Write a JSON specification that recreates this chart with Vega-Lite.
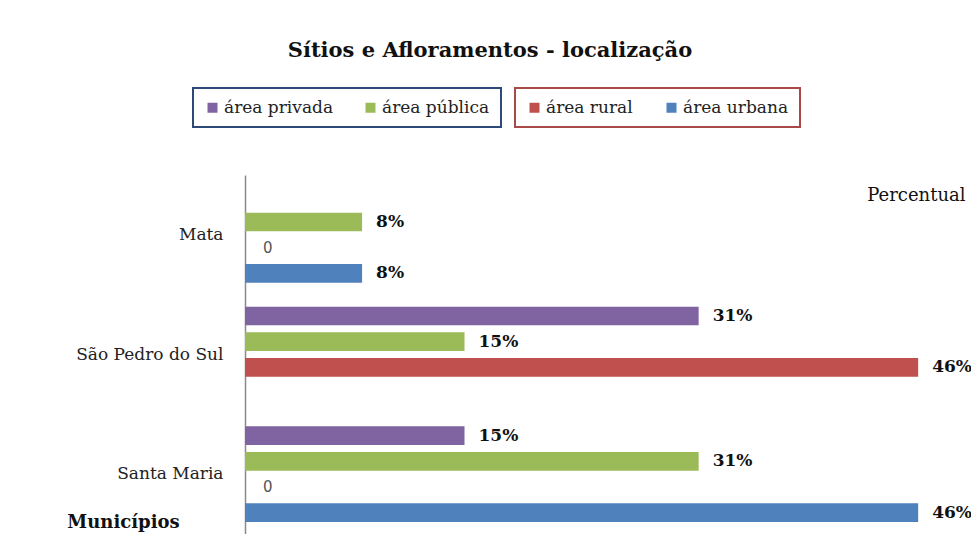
{
  "$schema": "https://vega.github.io/schema/vega-lite/v6.json",
  "autosize": "none",
  "padding": {"left": 245, "top": 175, "right": 6, "bottom": 0},
  "width": 720,
  "height": 359,
  "background": "white",
  "config": {"view": {"stroke": null}, "font": "DejaVu Serif", "legend": {"strokeWidth": 2}},
  "title": {
    "text": "Sítios e Afloramentos - localização",
    "font": "DejaVu Serif",
    "fontSize": 21,
    "fontWeight": "bold",
    "color": "#111",
    "anchor": "middle",
    "dx": -115,
    "offset": 26
  },
  "datasets": {
    "dados": [
      {"municipio": "Mata", "tipo": "área pública", "pct": 0.08},
      {"municipio": "Mata", "tipo": "área rural", "pct": 0},
      {"municipio": "Mata", "tipo": "área urbana", "pct": 0.08},
      {"municipio": "São Pedro do Sul", "tipo": "área privada", "pct": 0.31},
      {"municipio": "São Pedro do Sul", "tipo": "área pública", "pct": 0.15},
      {"municipio": "São Pedro do Sul", "tipo": "área rural", "pct": 0.46},
      {"municipio": "Santa Maria", "tipo": "área privada", "pct": 0.15},
      {"municipio": "Santa Maria", "tipo": "área pública", "pct": 0.31},
      {"municipio": "Santa Maria", "tipo": "área rural", "pct": 0},
      {"municipio": "Santa Maria", "tipo": "área urbana", "pct": 0.46}
    ]
  },
  "data": {"name": "dados"},
  "encoding": {
    "y": {
      "field": "municipio",
      "type": "nominal",
      "sort": ["Mata", "São Pedro do Sul", "Santa Maria"],
      "scale": {"paddingInner": 0.2, "paddingOuter": 0.1},
      "axis": {
        "title": "Municípios",
        "titleAngle": 0,
        "titleX": -122,
        "titleY": 347,
        "titleAlign": "center",
        "titleBaseline": "middle",
        "titleFont": "DejaVu Serif",
        "titleFontSize": 18,
        "titleFontWeight": "bold",
        "titleColor": "#111",
        "labelFont": "DejaVu Serif",
        "labelFontSize": 17,
        "labelColor": "#222",
        "labelPadding": 22,
        "ticks": false,
        "domainColor": "#8a8a8a",
        "domainWidth": 1.5,
        "grid": false
      }
    },
    "yOffset": {
      "field": "tipo",
      "type": "nominal",
      "scale": {"domain": ["área privada", "área pública", "área rural", "área urbana"], "paddingInner": 0.27}
    },
    "x": {
      "field": "pct",
      "type": "quantitative",
      "scale": {"domain": [0, 0.492], "nice": false},
      "axis": {
        "orient": "top",
        "labels": false,
        "ticks": false,
        "domain": false,
        "grid": false,
        "title": "Percentual",
        "titleX": 720,
        "titleY": 20,
        "titleAlign": "right",
        "titleBaseline": "middle",
        "titleFont": "DejaVu Serif",
        "titleFontSize": 18,
        "titleFontWeight": "normal",
        "titleColor": "#111"
      }
    }
  },
  "layer": [
    {
      "transform": [{"filter": {"field": "tipo", "oneOf": ["área privada", "área pública"]}}, {"filter": "datum.pct > 0"}],
      "mark": {"type": "bar"},
      "encoding": {
        "color": {
          "field": "tipo",
          "type": "nominal",
          "scale": {"domain": ["área privada", "área pública"], "range": ["#8064A2", "#9BBB59"]},
          "legend": {
            "title": null,
            "orient": "none",
            "legendX": -52,
            "legendY": -87,
            "direction": "horizontal",
            "strokeColor": "#2c4a78",
            "padding": 11,
            "columnPadding": 28,
            "symbolType": "square",
            "symbolSize": 100,
            "symbolStrokeWidth": 0,
            "labelFont": "DejaVu Serif",
            "labelFontSize": 17,
            "labelColor": "#222",
            "labelOffset": 3
          }
        }
      }
    },
    {
      "transform": [{"filter": {"field": "tipo", "oneOf": ["área rural", "área urbana"]}}, {"filter": "datum.pct > 0"}],
      "mark": {"type": "bar"},
      "encoding": {
        "color": {
          "field": "tipo",
          "type": "nominal",
          "scale": {"domain": ["área rural", "área urbana"], "range": ["#C0504D", "#4F81BD"]},
          "legend": {
            "title": null,
            "orient": "none",
            "legendX": 270,
            "legendY": -87,
            "direction": "horizontal",
            "strokeColor": "#a84a48",
            "padding": 11,
            "columnPadding": 30,
            "symbolType": "square",
            "symbolSize": 100,
            "symbolStrokeWidth": 0,
            "labelFont": "DejaVu Serif",
            "labelFontSize": 17,
            "labelColor": "#222",
            "labelOffset": 3
          }
        }
      }
    },
    {
      "transform": [{"filter": "datum.pct > 0"}],
      "mark": {"type": "text", "align": "left", "baseline": "middle", "dx": 14, "font": "DejaVu Serif", "fontSize": 17, "fontWeight": "bold", "color": "#111"},
      "encoding": {"text": {"field": "pct", "type": "quantitative", "format": ".0%"}}
    },
    {
      "transform": [{"filter": "datum.pct == 0"}],
      "mark": {"type": "text", "align": "left", "baseline": "middle", "dx": 18, "font": "DejaVu Sans", "fontSize": 15, "color": "#555"},
      "encoding": {"text": {"field": "pct", "type": "quantitative", "format": "d"}}
    }
  ],
  "resolve": {"scale": {"color": "independent"}, "legend": {"color": "independent"}}
}
